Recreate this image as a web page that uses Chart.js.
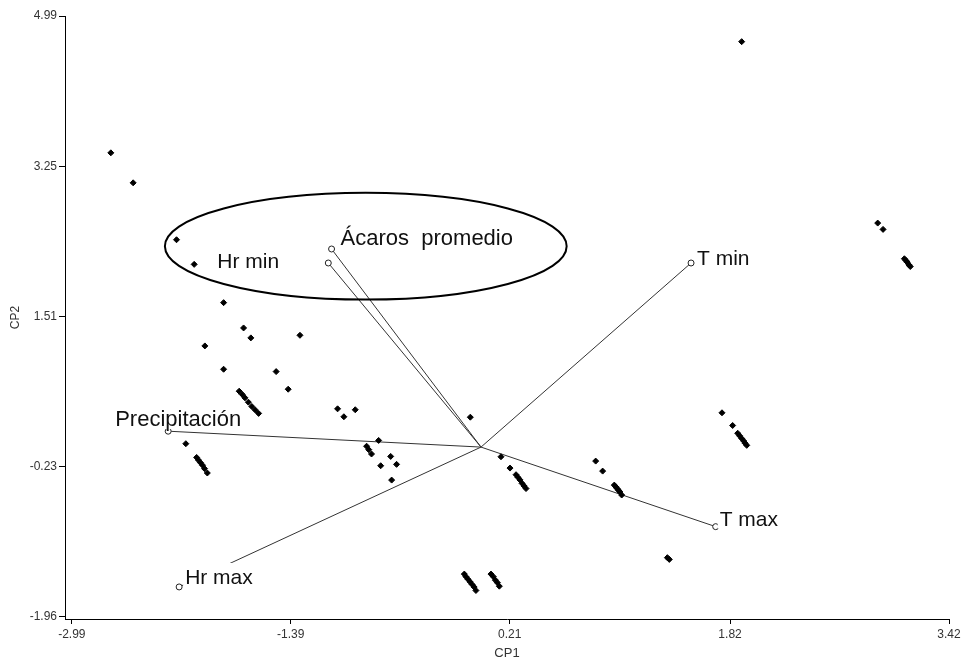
<!DOCTYPE html>
<html>
<head>
<meta charset="utf-8">
<script src="https://cdn.jsdelivr.net/npm/chart.js@4.4.1/dist/chart.umd.min.js"></script>
<style>
  html, body { margin: 0; padding: 0; background: #fff; }
</style>
</head>
<body>
<canvas id="biplot" width="968" height="663"></canvas>
<script>
// Observation scores (CP1, CP2)
const cp1Scores = [
  -2.705, -2.542, -2.225, -2.096, -1.881, -1.735, -1.682, -1.323, -2.018, -1.881,
  -1.497, -1.409, -1.767, -1.745, -1.725, -1.700, -1.675, -1.650, -1.625,
  -2.157, -2.078, -2.065, -2.050, -2.035, -2.020, -2.000,
  -1.048, -1.002, -0.919, -0.748, -0.836, -0.820, -0.800,
  -0.660, -0.617, -0.733, -0.653, -0.078,
  0.146, 0.212, 0.256, 0.270, 0.285, 0.300, 0.315, 0.329,
  0.838, 0.889, 0.974, 0.985, 0.995, 1.005, 1.015, 1.028,
  -0.122, -0.110, -0.095, -0.080, -0.065, -0.050, -0.037,
  0.073, 0.090, 0.105, 0.120, 0.134,
  1.761, 1.839, 1.876, 1.890, 1.905, 1.920, 1.930, 1.942,
  1.362, 1.376,
  1.905, 2.899, 2.938, 3.094, 3.105, 3.115, 3.127, 3.137
];
const cp2Scores = [
  3.406, 3.059, 2.400, 2.115, 1.672, 1.379, 1.264, 1.294, 1.171, 0.901,
  0.874, 0.670, 0.647, 0.610, 0.570, 0.520, 0.470, 0.430, 0.390,
  0.039, -0.120, -0.150, -0.180, -0.210, -0.250, -0.300,
  0.443, 0.351, 0.432, 0.077, 0.010, -0.030, -0.080,
  -0.108, -0.200, -0.216, -0.382, 0.346,
  -0.112, -0.243, -0.320, -0.350, -0.380, -0.420, -0.450, -0.480,
  -0.162, -0.278, -0.440, -0.460, -0.480, -0.500, -0.520, -0.555,
  -1.470, -1.500, -1.530, -1.560, -1.590, -1.620, -1.660,
  -1.470, -1.500, -1.540, -1.570, -1.610,
  0.397, 0.250, 0.160, 0.130, 0.100, 0.070, 0.045, 0.020,
  -1.280, -1.300,
  4.693, 2.593, 2.520, 2.180, 2.160, 2.140, 2.110, 2.090
];

// Variable loadings (vector end points)
const variableNames = ['Ácaros  promedio', 'Hr min', 'T min', 'Precipitación', 'Hr max', 'T max'];
const loadingCP1 = [-1.092, -1.116, 1.535, -2.286, -2.206, 1.715];
const loadingCP2 = [2.293, 2.131, 2.131, 0.184, -1.619, -0.921];

// Axis ticks
const xTickValues = [-2.99, -1.39, 0.21, 1.82, 3.42];
const xTickLabels = ['-2.99', '-1.39', '0.21', '1.82', '3.42'];
const yTickValues = [-1.96, -0.23, 1.51, 3.25, 4.99];
const yTickLabels = ['-1.96', '-0.23', '1.51', '3.25', '4.99'];

const FONT = '"Liberation Sans", Arial, sans-serif';

// label placement relative to each vector end (px) and font size
const labelShift = [[9, -4], [-111, 5], [6, 2], [-53, -5], [6, -3], [4, -1]];
const labelSize = [22, 21, 21, 22, 21, 21];

const biplotExtras = {
  id: 'biplotExtras',
  afterDatasetsDraw(chart) {
    const { ctx, scales: { x, y } } = chart;
    ctx.save();

    // ellipse round the acaros / Hr min group (data units)
    const cx = x.getPixelForValue(-0.842);
    const cy = y.getPixelForValue(2.325);
    const rx = x.getPixelForValue(-0.842 + 1.468) - cx;
    const ry = cy - y.getPixelForValue(2.325 + 0.618);
    ctx.beginPath();
    ctx.ellipse(cx, cy, rx, ry, 0, 0, Math.PI * 2);
    ctx.lineWidth = 2;
    ctx.strokeStyle = '#000';
    ctx.stroke();

    // variable labels with white box behind them
    ctx.textBaseline = 'alphabetic';
    ctx.textAlign = 'left';
    variableNames.forEach((name, i) => {
      ctx.font = labelSize[i] + 'px ' + FONT;
      const px = x.getPixelForValue(loadingCP1[i]) + labelShift[i][0];
      const py = y.getPixelForValue(loadingCP2[i]) + labelShift[i][1];
      const w = ctx.measureText(name).width;
      ctx.fillStyle = '#fff';
      ctx.fillRect(px - 2, py - 21, w + 4, 24);
      ctx.fillStyle = '#111';
      ctx.fillText(name, px, py);
    });
    ctx.restore();
  }
};

const scoreSet = {
  label: 'Observaciones',
  data: cp1Scores.map((v, i) => ({ x: v, y: cp2Scores[i] })),
  pointStyle: 'rectRot',
  pointRadius: 3,
  pointBackgroundColor: '#000',
  pointBorderColor: '#000',
  pointBorderWidth: 1,
  order: 1
};

const vectorSets = variableNames.map((name, i) => ({
  label: name,
  data: [{ x: 0, y: 0 }, { x: loadingCP1[i], y: loadingCP2[i] }],
  showLine: true,
  borderColor: '#333',
  borderWidth: 1,
  pointRadius: [0, 3],
  pointBackgroundColor: '#fff',
  pointBorderColor: '#222',
  pointBorderWidth: 1,
  order: 2
}));

new Chart(document.getElementById('biplot').getContext('2d'), {
  type: 'scatter',
  data: { datasets: [scoreSet, ...vectorSets] },
  options: {
    responsive: false,
    animation: false,
    events: [],
    layout: { padding: { top: 16, right: 19, left: 0, bottom: 0 } },
    plugins: {
      legend: { display: false },
      tooltip: { enabled: false }
    },
    scales: {
      x: {
        type: 'linear',
        min: -3.04,
        max: 3.42,
        afterBuildTicks: s => { s.ticks = xTickValues.map(v => ({ value: v })); },
        afterFit: s => { s.height = 44; },
        ticks: {
          callback: (v, i) => xTickLabels[i],
          autoSkip: false,
          maxRotation: 0,
          padding: 3,
          color: '#333',
          font: { family: FONT, size: 12 }
        },
        grid: { drawOnChartArea: false, color: '#000', tickLength: 5 },
        border: { color: '#000', width: 1 },
        title: {
          display: true,
          text: 'CP1',
          color: '#333',
          font: { family: FONT, size: 13 },
          padding: { top: 0, bottom: 2 }
        }
      },
      y: {
        type: 'linear',
        min: -1.99,
        max: 4.99,
        afterBuildTicks: s => { s.ticks = yTickValues.map(v => ({ value: v })); },
        afterFit: s => { s.width = 65; },
        ticks: {
          callback: (v, i) => yTickLabels[i],
          autoSkip: false,
          padding: 2,
          color: '#333',
          font: { family: FONT, size: 12 }
        },
        grid: { drawOnChartArea: false, color: '#000', tickLength: 6 },
        border: { color: '#000', width: 1 },
        title: {
          display: true,
          text: 'CP2',
          color: '#333',
          font: { family: FONT, size: 12 },
          padding: { top: 8, bottom: 0 }
        }
      }
    }
  },
  plugins: [biplotExtras]
});
</script>
</body>
</html>
